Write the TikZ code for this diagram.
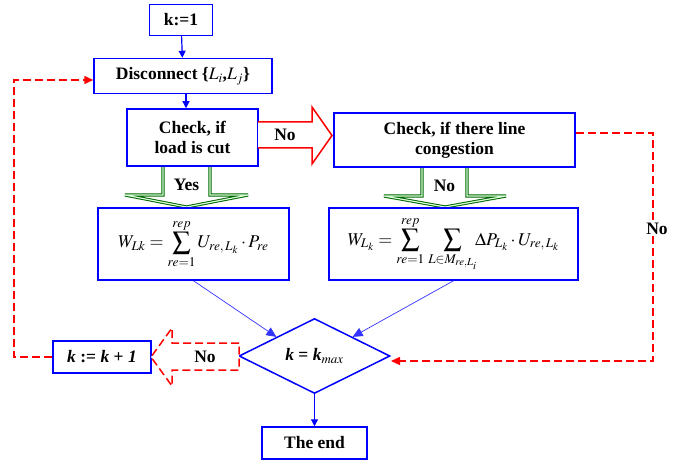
\documentclass[tikz,border=0pt]{standalone}
\usepackage{mathptmx}
\usepackage{fontspec}
\setmainfont{Liberation Serif}
\usetikzlibrary{shapes.geometric,arrows.meta}
\tikzset{
  box/.style={draw=blue, line width=1.5pt, fill=white, align=center, inner sep=0pt,
    font=\bfseries\fontsize{17.5}{20}\selectfont},
  mathbox/.style={box, font=\fontsize{18}{20}\selectfont},
  arr/.style={blue, line width=1.2pt, -{Triangle[length=7pt,width=7pt]}},
  thinarr/.style={blue!80, line width=0.7pt, -{Triangle[length=10pt,width=9pt]}},
  reddash/.style={red, line width=1.5pt, dash pattern=on 8pt off 4pt},
  redtip/.style={red, line width=1.5pt, -{Triangle[length=9pt,width=8pt]}},
  greenarrow/.style={draw=green!40!black, double=green!15, double distance=1.2pt, line width=1pt, line join=miter},
  lbl/.style={font=\bfseries\fontsize{17.5}{20}\selectfont, inner sep=1pt}
}
\begin{document}
\begin{tikzpicture}[x=1pt,y=-1pt]
\useasboundingbox (0,0) rectangle (687,462);
% green hollow arrows (behind boxes)
\draw[greenarrow, fill=white]
  (163,165) -- (163,195) -- (125,195) -- (186.5,207) -- (248,195) -- (210,195) -- (210,165) -- cycle;
\draw[greenarrow, fill=white]
  (422,166) -- (422,196) -- (384,196) -- (445,207) -- (506,196) -- (467,196) -- (467,166) -- cycle;
% nodes
\node[box, minimum width=63pt, minimum height=31pt] (k1) at (181,20) {k:=1};
\node[box, minimum width=178pt, minimum height=35pt] (disc) at (183,76) {Disconnect \{$L_i$,$L_j$\}};
\node[box, minimum width=131pt, minimum height=57pt] (load) at (192.5,137.5) {Check, if\\load is cut};
\node[box, minimum width=241pt, minimum height=54pt] (cong) at (454.5,140) {Check, if there line\\congestion};
\node[mathbox, minimum width=191pt, minimum height=72pt] (wl) at (193.5,244)
  {$\displaystyle W_{Lk}=\sum_{re=1}^{rep}U_{re,\,L_k}\cdot P_{re}$};
\node[mathbox, minimum width=249pt, minimum height=72pt] (wr) at (453.5,244)
  {$\displaystyle W_{L_k}=\sum_{re=1}^{rep}\,\sum_{L\in M_{re,L_i}}\!\!\Delta P_{L_k}\cdot U_{re,\,L_k}$};
\node[box, shape=diamond, aspect=2, minimum width=151pt, minimum height=75pt] (dia) at (314.5,356)
  {\textit{k} = \textit{k}$_{\mathit{max}}$};
\node[box, minimum width=105pt, minimum height=32pt] (end) at (314.5,443) {The end};
\node[box, minimum width=98pt, minimum height=32pt] (kk) at (102,357) {\textit{k} := \textit{k} + \textit{1}};
\node[lbl] (yes) at (186.5,185) {Yes};
\node[lbl] (no2) at (444.5,186) {No};
% blue connectors
\draw[arr] (k1) -- (disc);
\draw[arr] ([xshift=3pt]disc.south) -- ([xshift=3pt]disc.south |- load.north);
\draw[thinarr] (wl.south) -- (dia.north west);
\draw[thinarr] (wr.south) -- (dia.north east);
\draw[arr] (dia.south) -- (end.north);
% red solid hollow arrow (No)
\draw[red, line width=1.5pt, line join=miter, fill=white]
  (258,122) -- (312,122) -- (312,107) -- (332,135.5) -- (312,164) -- (312,148) -- (258,148);
\node[lbl] (no1) at (285,135) {No};
% red dashed hollow arrow (No) leftward
\draw[reddash, line join=miter, fill=white]
  (239,343) -- (172,343) -- (172,328) -- (151,357) -- (172,386) -- (172,370) -- (239,370) -- cycle;
\node[lbl] (no3) at (205,357) {No};
% red dashed loops
\coordinate (cr1) at (653,133);
\coordinate (cr2) at (653,361);
\coordinate (crt) at (391,361);
\draw[reddash] (cong.east |- cr1) -- (cr1) -- (cr2) -- ([xshift=9pt]crt);
\draw[redtip] ([xshift=9pt]crt) -- (crt);
\node[lbl, fill=white] (no4) at (657,229) {No};
\coordinate (cl1) at (14,357);
\coordinate (cl2) at (14,80);
\draw[reddash] (kk.west) -- (cl1) -- (cl2) -- ([xshift=-10pt]disc.west |- cl2);
\draw[redtip] ([xshift=-10pt]disc.west |- cl2) -- (disc.west |- cl2);
\end{tikzpicture}
\end{document}
